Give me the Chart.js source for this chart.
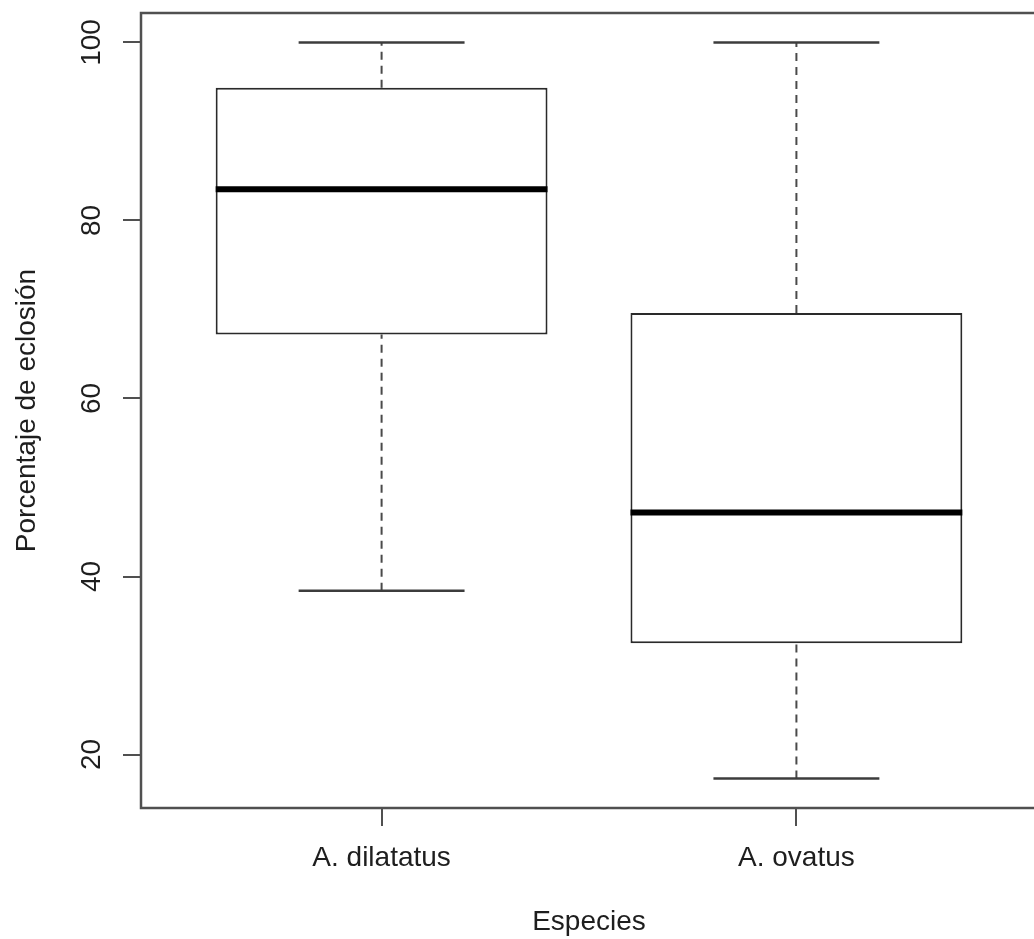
<!DOCTYPE html>
<html>
<head>
<meta charset="utf-8">
<script src="https://cdn.jsdelivr.net/npm/chart.js@4.4.1/dist/chart.umd.min.js"></script>
<style>
  html, body { margin: 0; padding: 0; background: #ffffff; overflow: hidden; }
  /* plot frame's right edge sits just past the visible page */
  #wrap { width: 1038px; height: 939px; }
</style>
</head>
<body>
<div id="wrap"><canvas id="c"></canvas></div>
<script>
// Five-number summaries for each species (hatching percentage)
const species      = ['A. dilatatus', 'A. ovatus'];
const whiskerLow   = [38.4, 17.3];
const quartile1    = [67.2, 32.5];
const medians      = [83.5, 47.2];
const quartile3    = [94.9, 69.6];
const whiskerHigh  = [100, 100];
const yTicks       = [20, 40, 60, 80, 100];
const yTitle       = 'Porcentaje de eclosión';
const xTitle       = 'Especies';

const FONT = "'Liberation Sans', Arial, Helvetica, sans-serif";
const FONT_SIZE = 28;
const TEXT = '#1e1e1e';
const AXIS = '#505050';

// y range padded by 4% like a classic base-graphics boxplot
const lo = Math.min(...whiskerLow);
const hi = Math.max(...whiskerHigh);
const pad = (hi - lo) * 0.04;

// whiskers, caps, medians, frame and rotated y labels
const boxPlot = {
  id: 'boxPlot',
  beforeDatasetsDraw(chart) {
    const { ctx, scales: { x, y } } = chart;
    ctx.save();
    species.forEach((name, i) => {
      const cx = x.getPixelForValue(i + 1);
      const half = x.getPixelForValue(i + 1 + 0.2) - cx;
      ctx.strokeStyle = '#4a4a4a';
      ctx.lineWidth = 2;
      ctx.setLineDash([8, 6]);
      ctx.beginPath();
      ctx.moveTo(cx, y.getPixelForValue(whiskerLow[i]));
      ctx.lineTo(cx, y.getPixelForValue(quartile1[i]));
      ctx.stroke();
      ctx.beginPath();
      ctx.moveTo(cx, y.getPixelForValue(quartile3[i]));
      ctx.lineTo(cx, y.getPixelForValue(whiskerHigh[i]));
      ctx.stroke();
      ctx.setLineDash([]);
      ctx.strokeStyle = '#3c3c3c';
      ctx.lineWidth = 2.5;
      [whiskerLow[i], whiskerHigh[i]].forEach(v => {
        const py = y.getPixelForValue(v);
        ctx.beginPath();
        ctx.moveTo(cx - half, py);
        ctx.lineTo(cx + half, py);
        ctx.stroke();
      });
    });
    ctx.restore();
  },
  afterDatasetsDraw(chart) {
    const { ctx, chartArea: a, scales: { x, y } } = chart;
    ctx.save();
    // medians
    species.forEach((name, i) => {
      const cx = x.getPixelForValue(i + 1);
      const half = x.getPixelForValue(i + 1 + 0.4) - cx;
      const py = y.getPixelForValue(medians[i]);
      ctx.strokeStyle = '#000000';
      ctx.lineWidth = 6;
      ctx.beginPath();
      ctx.moveTo(cx - half, py);
      ctx.lineTo(cx + half, py);
      ctx.stroke();
    });
    // plot frame
    ctx.strokeStyle = AXIS;
    ctx.lineWidth = 2.5;
    ctx.strokeRect(a.left, a.top, a.right - a.left, a.bottom - a.top);
    // rotated y tick labels
    ctx.fillStyle = TEXT;
    ctx.font = FONT_SIZE + 'px ' + FONT;
    ctx.textAlign = 'center';
    ctx.textBaseline = 'middle';
    yTicks.forEach(v => {
      ctx.save();
      ctx.translate(92, y.getPixelForValue(v));
      ctx.rotate(-Math.PI / 2);
      ctx.fillText(String(v), 0, 0);
      ctx.restore();
    });
    ctx.restore();
  }
};

new Chart(document.getElementById('c'), {
  type: 'bar',
  data: {
    datasets: [{
      data: species.map((s, i) => ({ x: i + 1, y: [quartile1[i], quartile3[i]] })),
      backgroundColor: '#ffffff',
      borderColor: '#2a2a2a',
      borderWidth: 2,
      borderSkipped: false,
      categoryPercentage: 0.8,
      barPercentage: 1.0
    }]
  },
  options: {
    responsive: true,
    maintainAspectRatio: false,
    animation: false,
    layout: { padding: { top: 13, right: 1, left: 0, bottom: 0 } },
    plugins: { legend: { display: false }, tooltip: { enabled: false } },
    scales: {
      x: {
        type: 'linear',
        offset: false,
        min: 0.42,
        max: species.length + 0.58,
        afterBuildTicks(scale) { scale.ticks = species.map((s, i) => ({ value: i + 1 })); },
        afterFit(scale) { scale.height = 131; },
        border: { display: false },
        grid: { offset: false, drawOnChartArea: false, drawTicks: true, tickLength: 18, color: AXIS, lineWidth: 2 },
        ticks: {
          autoSkip: false,
          maxRotation: 0,
          padding: 15,
          color: TEXT,
          font: { family: FONT, size: FONT_SIZE },
          callback: (v) => species[Math.round(v) - 1] || ''
        },
        title: {
          display: true,
          text: xTitle,
          color: TEXT,
          font: { family: FONT, size: FONT_SIZE },
          padding: { top: 0, bottom: 0 }
        }
      },
      y: {
        type: 'linear',
        min: lo - pad,
        max: hi + pad,
        afterBuildTicks(scale) { scale.ticks = yTicks.map(v => ({ value: v })); },
        afterFit(scale) { scale.width = 141; },
        border: { display: false },
        grid: { drawOnChartArea: false, drawTicks: true, tickLength: 18, color: AXIS, lineWidth: 2 },
        ticks: { display: false },
        title: {
          display: true,
          text: yTitle,
          color: TEXT,
          font: { family: FONT, size: FONT_SIZE },
          padding: { top: 10, bottom: 0 }
        }
      }
    }
  },
  plugins: [boxPlot]
});
</script>
</body>
</html>
